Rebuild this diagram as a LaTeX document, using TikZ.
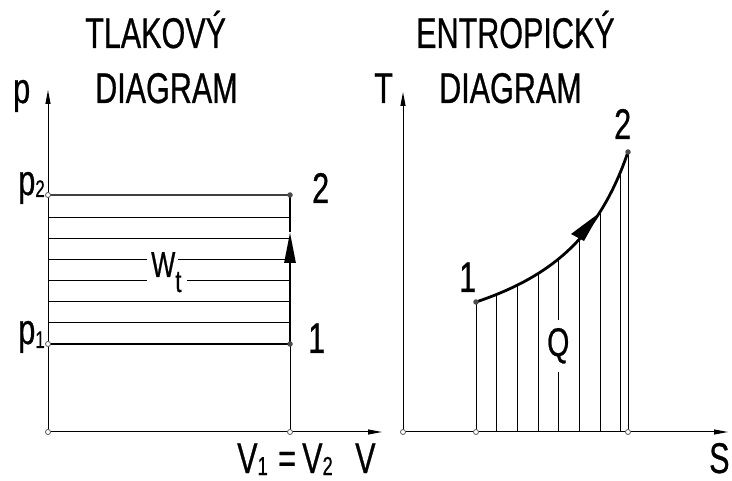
\documentclass[tikz,border=0pt]{standalone}
\usepackage{fontspec}
\setmainfont{Liberation Sans}[FakeStretch=0.71,FakeBold=0.6]
\usetikzlibrary{arrows.meta}
\newcommand\sbs[3]{\raisebox{#1}{\fontsize{#2}{#2}\selectfont #3}}
\begin{document}
\begin{tikzpicture}[x=1pt,y=-1pt,
  txt/.style={font=\fontsize{43}{43}\selectfont, inner sep=0pt, anchor=base west},
  axisline/.style={line width=1pt},
  hatchline/.style={line width=0.9pt},
  heavy/.style={line width=2.8pt},
  axisarrow/.style={-{Triangle[length=14pt,width=5pt]}},
  dotopen/.style={circle, draw=black!65, fill=white, line width=0.8pt, inner sep=0pt, minimum size=5pt},
  dotfill/.style={circle, fill=black!70, inner sep=0pt, minimum size=5.5pt}]
\useasboundingbox (0,0) rectangle (732,481);
% ---------- left: pressure diagram ----------
\coordinate (O1) at (48,432);
\coordinate (pTip) at (48,90);
\coordinate (vTip) at (382,432);
\coordinate (V12) at (290,432);
\coordinate (P1) at (290,344);
\coordinate (P2) at (290,195);
\coordinate (p1ax) at (48,344);
\coordinate (p2ax) at (48,195);
\coordinate (Wtip) at (290,232);
\draw[axisline,axisarrow] (O1) -- (pTip);
\draw[axisline,axisarrow] (O1) -- (vTip);
\draw[axisline] (V12) -- (P1);
\draw[line width=1.3pt] (p1ax) -- (P1);
\draw[line width=1.6pt, black!75] (p2ax) -- (P2);
\foreach \k in {1,2,5,6} \draw[hatchline] (48,{344-21.1*\k}) -- (290,{344-21.1*\k});
\draw[hatchline] (48,280.7) -- (147,280.7) (187,280.7) -- (290,280.7);
\draw[hatchline] (48,259.6) -- (147,259.6) (178,259.6) -- (290,259.6);
\draw[heavy, -{Triangle[length=31pt,width=11pt]}] (P1) -- (Wtip);
\draw[heavy] (Wtip) -- (P2);
% ---------- right: entropy diagram ----------
\coordinate (O2) at (403,432);
\coordinate (tTip) at (403,92);
\coordinate (sTip) at (728,432);
\coordinate (S1) at (476,432);
\coordinate (S2) at (628,432);
\coordinate (C1) at (476,302);
\coordinate (C2) at (628,152);
\coordinate (Ctip) at (600,212.5);
\coordinate (ahA) at (571,234);
\coordinate (ahB) at (584,241);
\draw[axisline,axisarrow] (O2) -- (tTip);
\draw[axisline,axisarrow] (O2) -- (sTip);
\draw[hatchline] (S1) -- (C1);
\draw[hatchline] (S2) -- (C2);
\foreach \k in {1,2,3,5,6,7}
  \draw[hatchline] ({476+20.7*\k},432) -- ({476+20.7*\k},{378.97-177.03/(7.06-(476+20.7*\k)/100)});
\draw[hatchline] (558.8,432) -- (558.8,372) (558.8,320) -- (558.8,258.7);
\draw[heavy] plot[domain=476:628, samples=80] (\x,{378.97-177.03/(7.06-\x/100)});
\fill (Ctip) -- (ahA) -- (ahB) -- cycle;
% ---------- texts ----------
\node[txt] (t1) at (85,48) {TLAKOVÝ};
\node[txt] (t2) at (95,103) {DIAGRAM};
\node[txt] (t3) at (416,48) {ENTROPICKÝ};
\node[txt] (t4) at (439,103) {DIAGRAM};
\node[txt] (lp) at (13,103) {p};
\node[txt] (lT) at (374,103) {T};
\node[txt, anchor=base east] (lp2) at (45,195) {p\sbs{-2pt}{24}{2}};
\node[txt, anchor=base east] (lp1) at (45,344) {p\sbs{-4pt}{24}{1}};
\node[txt] (l2a) at (312,203) {2};
\node[txt] (l1a) at (308,353) {1};
\node[txt] (lW) at (151,277) {\fontsize{36}{36}\selectfont W\sbs{-15pt}{31}{t}};
\node[txt] (l1b) at (459,292) {1};
\node[txt] (l2b) at (614,139) {2};
\node[txt] (lQ) at (547,356) {\fontsize{40}{40}\selectfont Q};
\node[txt] (lV1) at (237,473) {V\sbs{-2pt}{26}{1}};
\node[txt] (leq) at (278,473) {=};
\node[txt] (lV2) at (302,473) {V\sbs{-2pt}{26}{2}};
\node[txt] (lV) at (355,473) {V};
\node[txt] (lS) at (709,473) {S};
% ---------- points ----------
\foreach \c in {O1,V12,p1ax,p2ax,O2,S1,S2} \node[dotopen] (d\c) at (\c) {};
\foreach \c in {P1,P2,C1,C2} \node[dotfill] (d\c) at (\c) {};
\end{tikzpicture}
\end{document}
